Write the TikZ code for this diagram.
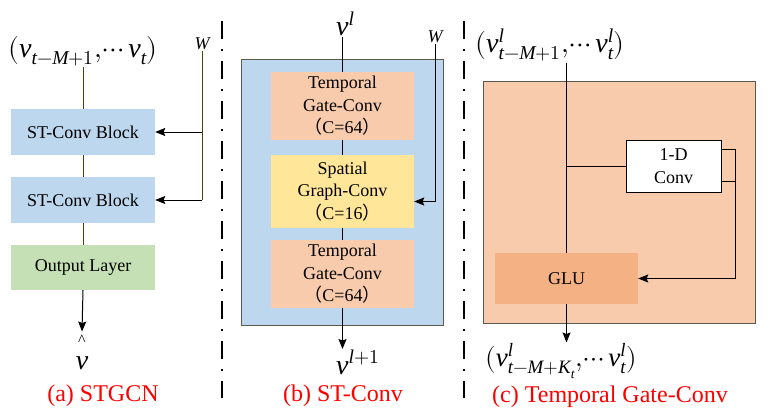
\documentclass[tikz,border=0pt]{standalone}
\usepackage{fontspec}
\usepackage{unicode-math}
\setmainfont{Liberation Serif}
\setmathfont{Latin Modern Math}
\setmathfont[range=it]{Liberation Serif Italic}
\newfontfamily\cjk{Noto Sans CJK SC}
\usetikzlibrary{arrows.meta}

\definecolor{stblue}{HTML}{BDD7EE}
\definecolor{tgorange}{HTML}{F8CBAD}
\definecolor{sgyellow}{HTML}{FFE699}
\definecolor{outgreen}{HTML}{C5E0B4}
\definecolor{gluorange}{HTML}{F4B183}
\definecolor{wline}{RGB}{70,70,10}
\definecolor{frame}{RGB}{90,90,80}

\newcommand{\fpl}{{\cjk （}}
\newcommand{\fpr}{{\cjk ）}}
\newcommand{\sep}{,\!\cdots}

\tikzset{
  box/.style={draw=none, inner sep=0pt, align=center,
    font=\fontsize{18}{22.5}\selectfont},
  math/.style={inner sep=1pt, font=\fontsize{28}{30}\selectfont},
  wlabel/.style={inner sep=1pt, font=\fontsize{18}{20}\selectfont},
  caption/.style={text=red, inner sep=0pt, font=\fontsize{24}{28}\selectfont},
  conn/.style={line width=1pt, draw=black},
  arr/.style={conn, -{Stealth[length=10pt, width=8pt, inset=1.5pt]}},
  separator/.style={line width=2.2pt, dash pattern=on 18pt off 10pt on 2pt off 10pt},
}

\begin{document}
\begin{tikzpicture}[x=1pt, y=-1pt]
\useasboundingbox (0,0) rectangle (771,420);

% ---------- (a) STGCN ----------
\node[math] (ain) at (83,51) {$(v_{t-M+1}\sep v_t)$};
\node[wlabel] (aw) at (202,44) {$W$};
\node[box, fill=stblue, minimum width=144, minimum height=46] (ab1) at (83,132) {ST-Conv Block};
\node[box, fill=stblue, minimum width=144, minimum height=46] (ab2) at (83,200) {ST-Conv Block};
\node[box, fill=outgreen, minimum width=144, minimum height=45] (aol) at (83,267.5) {Output Layer};
\node[inner sep=0pt, font=\fontsize{16}{16}\selectfont] (ahat) at (82,340) {\^{}};
\node[math, inner sep=0pt] (aout) at (82,363) {$v$};
\node[caption] (capa) at (103,396) {(a) STGCN};

\draw[conn, draw=wline] (ain.south -| ab1.north) -- (ab1.north);
\draw[conn, draw=wline] (ab1.south) -- (ab2.north);
\draw[conn, draw=wline] (ab2.south) -- (aol.north);
\draw[arr] (aol.south) -- ([yshift=3pt]ahat.north);
\draw[conn, draw=wline] (aw.south) -- (aw.south |- ab2.east);
\draw[arr] (aw.south |- ab1.east) -- (ab1.east);
\draw[arr] (aw.south |- ab2.east) -- (ab2.east);

% separators
\coordinate (s1t) at (222,21);
\coordinate (s1b) at (222,398);
\coordinate (s2t) at (464,21);
\coordinate (s2b) at (464,398);
\draw[separator] (s1t) -- (s1b);
\draw[separator] (s2t) -- (s2b);

% ---------- (b) ST-Conv ----------
\node[draw=frame, line width=0.8pt, fill=stblue, minimum width=202, minimum height=266, inner sep=0pt] (bst) at (342,192) {};
\node[box, fill=tgorange, minimum width=143, minimum height=68] (bt1) at (342.5,106)
  {Temporal\\Gate-Conv\\\fpl C=64\fpr};
\node[box, fill=sgyellow, minimum width=143, minimum height=73] (bsg) at (342.5,191.5)
  {Spatial\\Graph-Conv\\\fpl C=16\fpr};
\node[box, fill=tgorange, minimum width=143, minimum height=68] (bt2) at (342.5,274)
  {Temporal\\Gate-Conv\\\fpl C=64\fpr};
\node[math, anchor=base west] (bvl) at (335,36) {$v^l$};
\node[wlabel] (bw) at (435,37) {$W$};
\node[math, anchor=base west] (bvo) at (335,374) {$v^{l+1}$};
\node[caption] (capb) at (343,396) {(b) ST-Conv};

\draw[conn] (bt1.north |- bvl.south) -- (bt1.north);
\draw[conn] (bt1.south) -- (bsg.north);
\draw[conn] (bsg.south) -- (bt2.north);
\draw[arr] (bt2.south) -- (bt2.south |- bvo.north);
\draw[arr] (bw.south) |- ([yshift=-10pt]bsg.east);

% ---------- (c) Temporal Gate-Conv ----------
\node[draw=frame, line width=0.8pt, fill=tgorange, minimum width=272, minimum height=242, inner sep=0pt] (cbox) at (619,202) {};
\node[math] (cin) at (550,45) {$(v^l_{t-M+1}\sep v^l_t)$};
\node[box, draw=black, line width=0.8pt, fill=white, minimum width=95, minimum height=52] (cconv) at (673.5,166) {1-D\\Conv};
\node[box, fill=gluorange, minimum width=143, minimum height=51] (cglu) at (566.5,278.5) {GLU};
\node[math, font=\fontsize{27}{29}\selectfont] (cout) at (561,361) {$(v^l_{t-M+K_t}\sep v^l_t)$};
\node[caption] (capc) at (610,397) {(c) Temporal Gate-Conv};

\draw[conn] (cglu.north |- cin.south) -- (cglu.north);
\draw[conn] (cconv.west) -- (cconv.west -| cglu.north);
\draw[arr] ([yshift=17pt]cconv.east) -- ++(14,0) |- (cglu.east);
\draw[conn] ([yshift=-15pt]cconv.east) -- ++(14,0);
\draw[arr] (cglu.south) -- (cglu.south |- cout.north);
\end{tikzpicture}
\end{document}
